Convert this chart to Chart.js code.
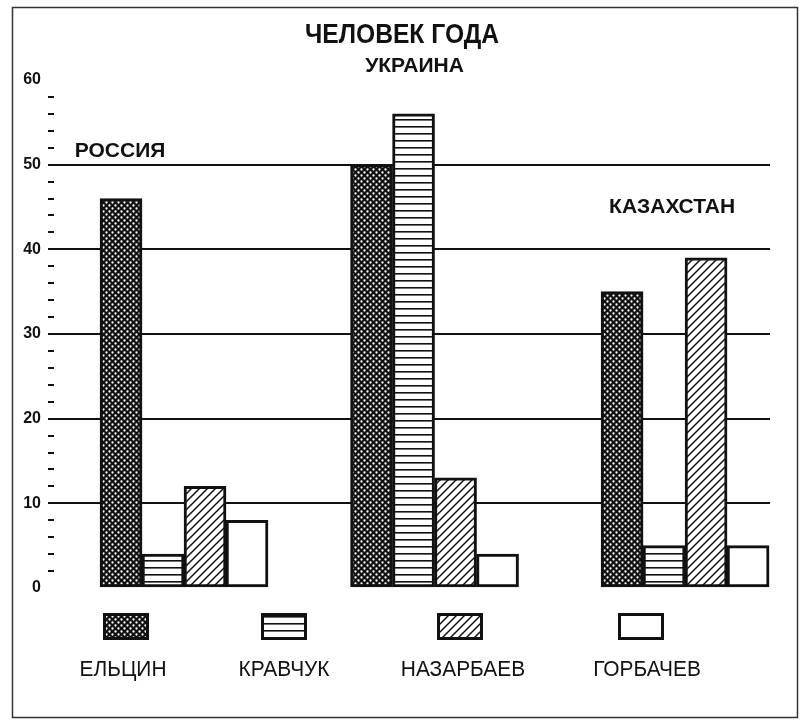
<!DOCTYPE html>
<html>
<head>
<meta charset="utf-8">
<script src="https://cdn.jsdelivr.net/npm/chart.js@4.4.0/dist/chart.umd.min.js"></script>
<style>
  body { margin: 0; background: #fff; }
</style>
</head>
<body>
<canvas id="myChart" width="804" height="725"></canvas>
<script>
// данные
const strany = ["РОССИЯ", "УКРАИНА", "КАЗАХСТАН"];
const kandidaty = ["ЕЛЬЦИН", "КРАВЧУК", "НАЗАРБАЕВ", "ГОРБАЧЕВ"];
const eltsin = [46, 50, 35];
const kravchuk = [4, 56, 5];
const nazarbaev = [12, 13, 39];
const gorbachev = [8, 4, 5];
const metki_y = [0, 10, 20, 30, 40, 50, 60];

const ctx = document.getElementById("myChart").getContext("2d");

/* узоры для столбиков */
function uzor(tip) {
    const c = document.createElement("canvas");
    const g = c.getContext("2d");
    if (tip === "setka") {
        c.width = 6; c.height = 6;
        g.fillStyle = "#111";
        g.fillRect(0, 0, 6, 6);
        g.fillStyle = "#fff";
        [[1.5, 1.5], [4.5, 4.5]].forEach(p => {
            g.beginPath();
            g.arc(p[0], p[1], 1.15, 0, Math.PI * 2);
            g.fill();
        });
    } else if (tip === "gorizont") {
        c.width = 8; c.height = 7;
        g.fillStyle = "#fff";
        g.fillRect(0, 0, 8, 7);
        g.fillStyle = "#111";
        g.fillRect(0, 0, 8, 1.6);
    } else if (tip === "diagonal") {
        c.width = 8; c.height = 8;
        g.fillStyle = "#fff";
        g.fillRect(0, 0, 8, 8);
        g.strokeStyle = "#111";
        g.lineWidth = 1.5;
        g.beginPath();
        g.moveTo(-1, 9); g.lineTo(9, -1);
        g.moveTo(-1, 1); g.lineTo(1, -1);
        g.moveTo(7, 9); g.lineTo(9, 7);
        g.stroke();
    } else {
        return "#fff";
    }
    return ctx.createPattern(c, "repeat");
}

const ryady = [eltsin, kravchuk, nazarbaev, gorbachev];
const zalivki = [uzor("setka"), uzor("gorizont"), uzor("diagonal"), uzor("pusto")];

const datasets = kandidaty.map((imya, k) => ({
    label: imya,
    data: ryady[k].map((v, i) => ({ x: i, y: v })),
    backgroundColor: zalivki[k],
    borderColor: "#111",
    borderWidth: 3,
    borderSkipped: false,
    barThickness: 42
}));

// узкий текст (сжатый по горизонтали)
function uzkiy(c, text, x, y, sjatie) {
    c.save();
    c.translate(x, y);
    c.scale(sjatie, 1);
    c.fillText(text, 0, 0);
    c.restore();
}

/* надписи, легенда и рамка */
const nadpisi = {
    id: "nadpisi",
    afterDraw(chart) {
        const c = chart.ctx;
        const sx = chart.scales.x;
        c.save();
        c.fillStyle = "#111";
        c.textAlign = "center";
        c.textBaseline = "alphabetic";

        c.font = "bold 28px 'Liberation Sans', Arial, sans-serif";
        uzkiy(c, "ЧЕЛОВЕК ГОДА", 402, 43, 0.88);

        const sdvig = [-64, -20, -13];
        const vysota = [157, 72, 213];
        c.font = "bold 21px 'Liberation Sans', Arial, sans-serif";
        strany.forEach((s, i) => {
            c.fillText(s, sx.getPixelForValue(i) + sdvig[i], vysota[i]);
        });

        // легенда
        const lx = [126, 284, 460, 641];
        chart.data.datasets.forEach((ds, k) => {
            c.fillStyle = ds.backgroundColor;
            c.fillRect(lx[k] - 23, 613, 46, 27);
            c.strokeStyle = "#111";
            c.lineWidth = 3;
            c.strokeRect(lx[k] - 21.5, 614.5, 43, 24);
            c.fillStyle = "#111";
            c.font = "22px 'Liberation Sans', Arial, sans-serif";
            uzkiy(c, ds.label, lx[k] - 3 + k * 3, 676, 0.95);
        });

        // рамка
        c.strokeStyle = "#333";
        c.lineWidth = 1.5;
        c.strokeRect(12.5, 7.5, 785, 710);
        c.restore();
    }
};

const myChart = new Chart(ctx, {
    type: "bar",
    data: { datasets },
    plugins: [nadpisi],
    options: {
        responsive: false,
        animation: false,
        layout: { padding: { left: 0, right: 34, top: 80, bottom: 137 } },
        plugins: {
            legend: { display: false },
            tooltip: { enabled: false }
        },
        scales: {
            x: {
                type: "linear",
                display: false,
                offset: false,
                min: -0.519,
                max: 2.339,
                ticks: { stepSize: 1, includeBounds: false }
            },
            y: {
                min: 0,
                max: 60,
                afterFit: (scale) => { scale.width = 54; },
                border: { display: false },
                grid: {
                    color: (c) => (c.tick && c.tick.value % 10 === 0 && c.tick.value > 0 && c.tick.value < 60) ? "#111" : "rgba(0,0,0,0)",
                    tickColor: (c) => (c.tick && (c.tick.value === 0 || c.tick.value === 60)) ? "rgba(0,0,0,0)" : "#111",
                    lineWidth: 2,
                    tickWidth: 2,
                    tickLength: 6
                },
                ticks: {
                    stepSize: 2,
                    autoSkip: false,
                    padding: 7,
                    color: "#111",
                    font: { family: "'Liberation Sans', Arial, sans-serif", size: 16, weight: "bold" },
                    callback: (v) => metki_y.includes(v) ? v : ""
                }
            }
        }
    }
});
</script>
</body>
</html>
